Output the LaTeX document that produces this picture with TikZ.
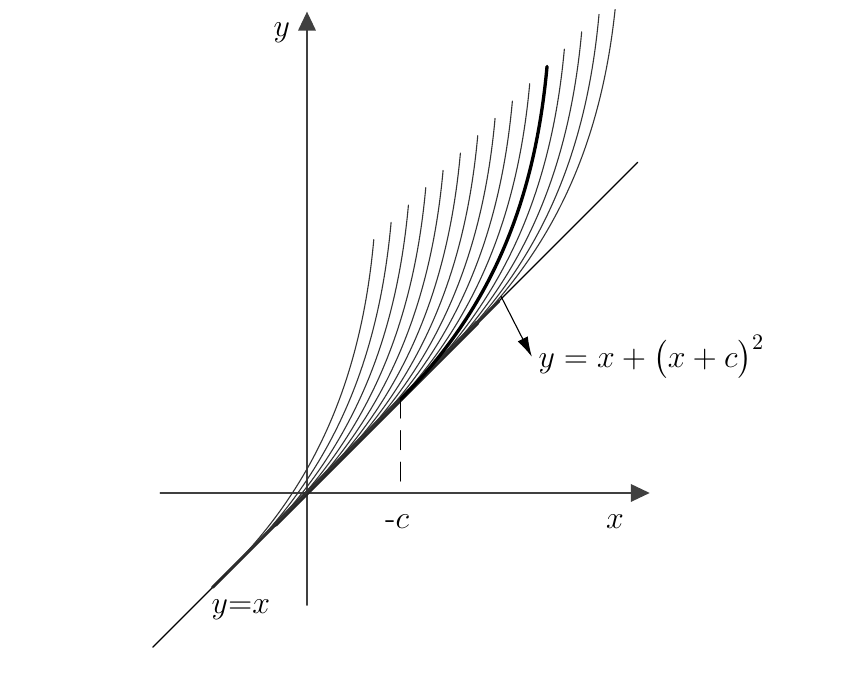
\documentclass[tikz,border=0pt]{standalone}
\usepackage{amsmath}
\usetikzlibrary{arrows.meta}
\tikzset{
  axis/.style={line width=0.6pt, black!75, -{Triangle[length=3mm,width=2.8mm]}},
  curve/.style={line width=0.5pt, black!80},
  thickcurve/.style={line width=1.5pt, black},
  label/.style={font=\Large, inner sep=1mm}
}
\begin{document}
\begin{tikzpicture}[line join=round, line cap=round, >=stealth]
	\useasboundingbox (-4.873,-3.079) rectangle (8.603,7.825);
	% axes
	\coordinate (xmin) at (-2.33,0);
	\coordinate (xmax) at (5.44,0);
	\coordinate (ymin) at (0,-1.78);
	\coordinate (ymax) at (0,7.64);
	\draw[axis] (xmin) -- (xmax);
	\draw[axis] (ymin) -- (ymax);
	\node[label] (xlab) at (4.89,-0.45) {$x$};
	\node[label] (ylab) at (-0.4,7.3) {$y$};
	% the line y=x
	\coordinate (lstart) at (-2.45,-2.45);
	\coordinate (lend) at (5.25,5.25);
	\draw[line width=0.5pt] (lstart) -- (lend);
	\draw[line width=1.3pt, black!85] (-1.5,-1.5) -- (3.05,3.05);
	\draw[line width=2pt, black!85] (-0.5,-0.5) -- (2.7,2.7);
	\node[label] (lineq) at (-1.05,-1.86) {$y{=}x$};
	% family of curves
	\begin{scope}
	\clip (-4.873,-3.079) rectangle (8.603,7.667);
	\foreach \k in {0,...,14}{
		\pgfmathsetmacro{\t}{-1.26+0.275*\k}
		\draw[curve] (\t,\t) .. controls ({\t+1.4},{\t+1.4}) and ({\t+2.12},{\t+3.08}) .. ({\t+2.32},{\t+5.28});
	}
	\draw[thickcurve] (1.49,1.49) .. controls (2.89,2.89) and (3.61,4.57) .. (3.81,6.77);
	\end{scope}
	% the point -c
	\coordinate (c0) at (1.49,0);
	\coordinate (c1) at (1.49,1.49);
	\draw[line width=0.5pt, dash pattern=on 3mm off 2mm] (c1) -- (c0);
	\node[label] (clab) at (1.43,-0.45) {-$c$};
	% pointer to the formula
	\coordinate (touch) at (3.08,3.12);
	\node[label, anchor=west] (formula) at (3.57,2.16) {$y=x+\bigl(x+c\bigr)^{2}$};
	\draw[line width=0.5pt, -{Latex[length=3.2mm,width=1.8mm]}] (touch) -- (formula.west);
\end{tikzpicture}
\end{document}
